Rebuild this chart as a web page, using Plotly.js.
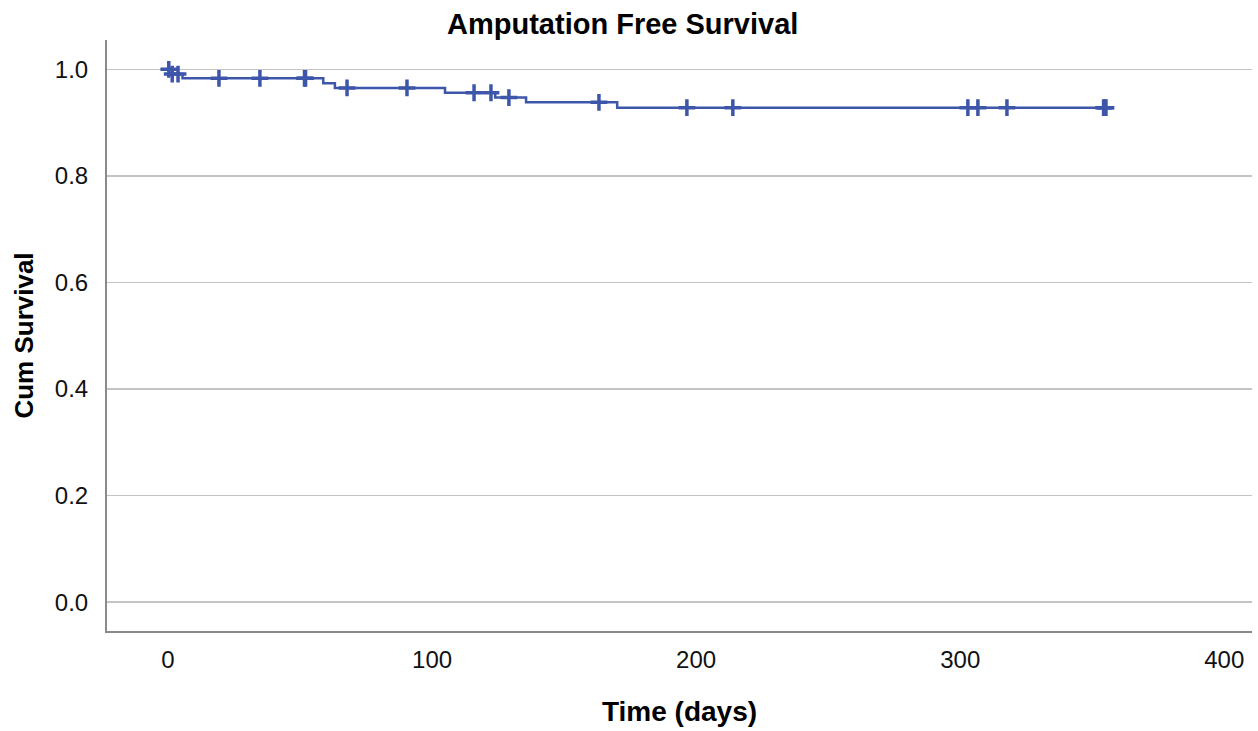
<!DOCTYPE html>
<html>
<head>
<meta charset="utf-8">
<script src="https://cdn.plot.ly/plotly-3.0.1.min.js"></script>
<style>html,body{margin:0;padding:0;background:#fff;}#chart{width:1258px;height:731px;}</style>
</head>
<body>
<div id="chart"></div>
<script>
// Kaplan-Meier step points (time in days, cumulative survival)
const stepTimes = [0, 1.4, 5.5, 58.8, 63.2, 104.9, 123.9, 135.6, 170.1, 354.8];
const stepSurv  = [1.0, 0.991, 0.983, 0.974, 0.965, 0.956, 0.947, 0.938, 0.928, 0.928];
// Censored observations (days)
const censorTimes = [0.3, 1.6, 3.8, 19.3, 34.8, 51.7, 52.1, 67.8, 90.5, 115.9, 122.3, 129.1, 163.2, 196.5, 213.9, 302.9, 306.7, 317.7, 354.3, 354.8, 355.2];

function survAt(t) {
  let s = stepSurv[0];
  for (let i = 0; i < stepTimes.length; i++) { if (stepTimes[i] <= t) s = stepSurv[i]; }
  return s;
}
const censorSurv = censorTimes.map(survAt);

const blue = '#3d56aa';
const font = 'Liberation Sans, Arial, sans-serif';
const traces = [
  {x: stepTimes, y: stepSurv, type: 'scatter', mode: 'lines', line: {shape: 'hv', color: blue, width: 2.5}, hoverinfo: 'skip'},
  {x: censorTimes, y: censorSurv, type: 'scatter', mode: 'markers',
   marker: {symbol: 'cross-thin-open', size: 12, line: {color: blue, width: 3.5}, color: blue}}
];

const layout = {
  width: 1258, height: 731,
  margin: {l: 107, r: 6, t: 40, b: 100},
  paper_bgcolor: '#fff', plot_bgcolor: '#fff',
  showlegend: false,
  title: {text: '<b>Amputation Free Survival</b>', x: 0.495, xref: 'container', y: 0.967, yanchor: 'middle',
          font: {family: font, size: 29, color: '#000'}},
  xaxis: {
    range: [-23.1, 410.5], tickvals: [0, 100, 200, 300, 400], ticktext: ['0','100','200','300','400'],
    showgrid: false, zeroline: false, showline: true, linecolor: '#8a8a8a', linewidth: 2,
    ticks: '', ticklabelstandoff: 6,
    tickfont: {family: font, size: 24, color: '#111'},
    title: {text: '<b>Time (days)</b>', standoff: 30, font: {family: font, size: 28, color: '#000'}}
  },
  yaxis: {
    range: [-0.054, 1.055], tickvals: [0, 0.2, 0.4, 0.6, 0.8, 1.0], ticktext: ['0.0','0.2','0.4','0.6','0.8','1.0'],
    showgrid: true, gridcolor: '#c4c4c4', gridwidth: 1.5, zeroline: false,
    showline: true, linecolor: '#8a8a8a', linewidth: 2, ticks: '', ticklabelstandoff: 12,
    tickfont: {family: font, size: 24, color: '#111'},
    title: {text: '<b>Cum Survival</b>', standoff: 14, font: {family: font, size: 26, color: '#000'}}
  }
};

Plotly.newPlot('chart', traces, layout, {displayModeBar: false, staticPlot: true});
</script>
</body>
</html>
